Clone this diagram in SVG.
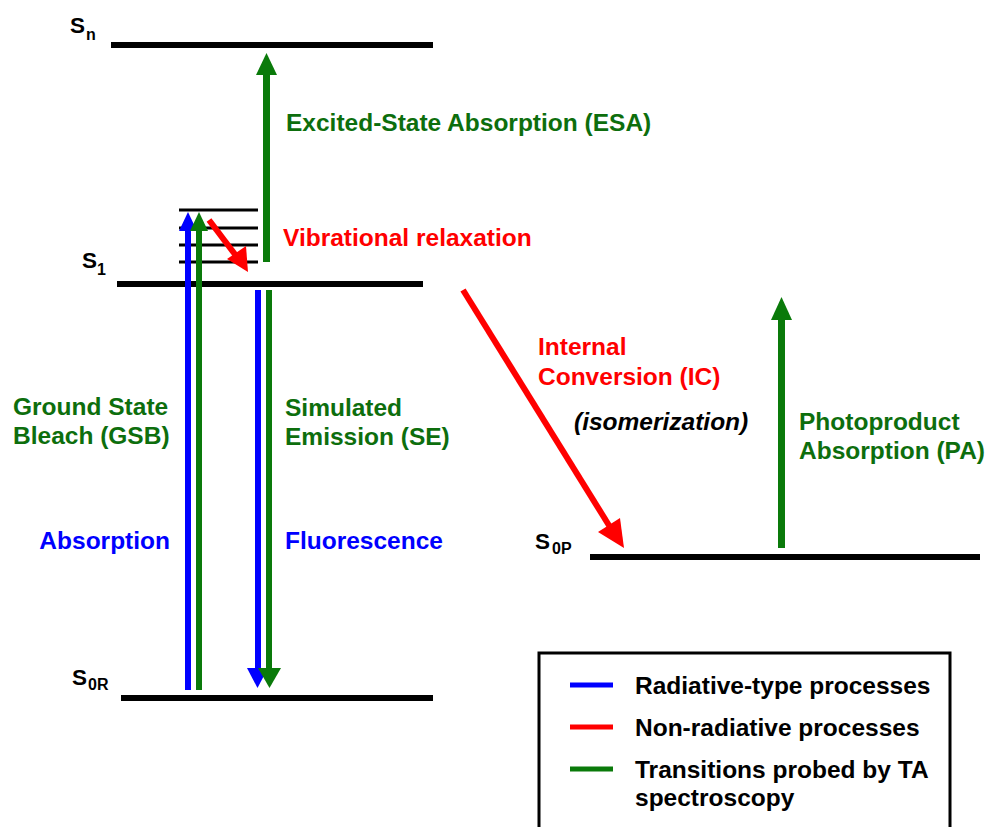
<svg xmlns="http://www.w3.org/2000/svg" width="988" height="827" viewBox="0 0 988 827">
<style>
text{font-family:"Liberation Sans",Arial,sans-serif;font-weight:bold;font-size:24.5px}
.g{fill:#0d6e0d}.b{fill:#0000ff}.r{fill:#ff0000}.k{fill:#000}
.lvl{stroke:#000;stroke-width:6}
.vib{stroke:#000;stroke-width:3}
.sub{font-size:16px}
.lab{font-size:22.5px}
</style>
<rect width="988" height="827" fill="#fff"/>
<g id="levels">
<g id="Sn"><line class="lvl" x1="111" y1="45" x2="433" y2="45"/><text x="70" y="33" class="lab">S</text><text x="86" y="40" class="sub">n</text></g>
<g id="S1"><line class="lvl" x1="117" y1="284" x2="423" y2="284"/><line class="vib" x1="179" y1="210" x2="258" y2="210"/><line class="vib" x1="179" y1="228" x2="258" y2="228"/><line class="vib" x1="179" y1="245" x2="258" y2="245"/><line class="vib" x1="179" y1="262" x2="258" y2="262"/><text x="82" y="268" class="lab">S</text><text x="97" y="275" class="sub">1</text></g>
<g id="S0R"><line class="lvl" x1="121" y1="698" x2="433" y2="698"/><text x="72" y="685" class="lab">S</text><text x="88" y="690" class="sub">0R</text></g>
<g id="S0P"><line class="lvl" x1="590" y1="557" x2="980" y2="557"/><text x="535" y="549" class="lab">S</text><text x="552" y="554" class="sub">0P</text></g>
</g>
<g id="connectors">
<g id="esa"><rect x="263" y="72" width="7" height="190" fill="#0a7a0a"/><polygon points="256,75 277,75 266.5,53" fill="#0a7a0a"/></g>
<g id="absorption"><rect x="185" y="228" width="6" height="462" fill="#0000ff"/><polygon points="179,231 197,231 188,212" fill="#0000ff"/></g>
<g id="gsb"><rect x="196" y="228" width="6" height="462" fill="#0a7a0a"/><polygon points="190,231 208,231 199,212" fill="#0a7a0a"/></g>
<g id="fluor"><rect x="255" y="290" width="6" height="380" fill="#0000ff"/><polygon points="247,668 268,668 257.5,688" fill="#0000ff"/></g>
<g id="se"><rect x="266" y="290" width="6" height="380" fill="#0a7a0a"/><polygon points="258,668 281,668 269.5,688" fill="#0a7a0a"/></g>
<g id="vr"><line x1="209" y1="220" x2="237" y2="257" stroke="#ff0000" stroke-width="6"/><polygon points="227,259 246,246 248,272" fill="#ff0000"/></g>
<g id="ic"><line x1="463" y1="290" x2="610" y2="527" stroke="#ff0000" stroke-width="6"/><polygon points="598,532 620,518 624,548" fill="#ff0000"/></g>
<g id="pa"><rect x="778" y="318" width="7" height="230" fill="#0a7a0a"/><polygon points="771,320 792,320 781.5,297" fill="#0a7a0a"/></g>
</g>
<g id="labels">
<text x="286" y="131" class="g">Excited-State Absorption (ESA)</text>
<text x="283" y="246" class="r">Vibrational relaxation</text>
<text x="13" y="415" class="g">Ground State</text>
<text x="13" y="444" class="g">Bleach (GSB)</text>
<text x="170" y="549" class="b" text-anchor="end">Absorption</text>
<text x="285" y="416" class="g">Simulated</text>
<text x="285" y="445" class="g">Emission (SE)</text>
<text x="285" y="549" class="b">Fluorescence</text>
<text x="538" y="355" class="r">Internal</text>
<text x="538" y="385" class="r">Conversion (IC)</text>
<text x="574" y="430" class="k" font-style="italic">(isomerization)</text>
<text x="799" y="430" class="g">Photoproduct</text>
<text x="799" y="459" class="g">Absorption (PA)</text>
</g>
<g id="legend">
<rect x="539" y="653" width="411" height="190" fill="none" stroke="#000" stroke-width="3"/>
<line x1="570" y1="685" x2="613" y2="685" stroke="#0000ff" stroke-width="5"/>
<line x1="570" y1="727" x2="613" y2="727" stroke="#ff0000" stroke-width="5"/>
<line x1="570" y1="769" x2="613" y2="769" stroke="#0a7a0a" stroke-width="5"/>
<text x="635" y="694" class="k">Radiative-type processes</text>
<text x="635" y="736" class="k">Non-radiative processes</text>
<text x="635" y="778" class="k">Transitions probed by TA</text>
<text x="635" y="806" class="k">spectroscopy</text>
</g>
</svg>
